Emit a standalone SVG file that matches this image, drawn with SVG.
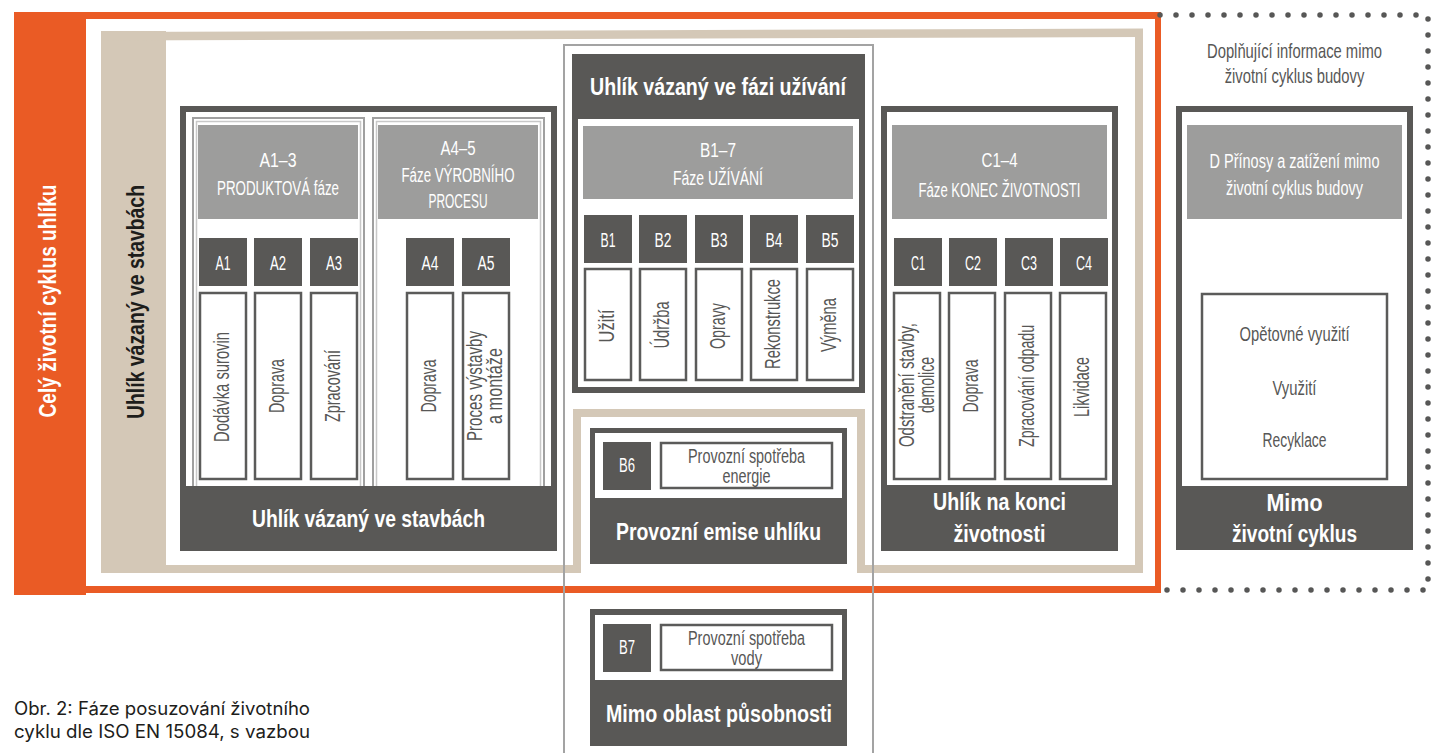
<svg xmlns="http://www.w3.org/2000/svg" width="1431" height="753" viewBox="0 0 1431 753">
<style>
text{font-family:"Liberation Sans",Arial,sans-serif}
.dk{fill:#595856}
.hd{fill:#9d9d9c}
.wh{fill:#fff}
.wb{fill:#fff;stroke:#5b5b5a;stroke-width:2.5}
.tan{fill:#d4c8b7}
.or{fill:#ea5b25}
.lw{fill:#fff;font-size:20px;text-anchor:middle}
.lb{fill:#fff;font-size:23px;font-weight:bold;text-anchor:middle}
.lg{fill:#575756;font-size:20px;text-anchor:middle}
.lv{fill:#575756;font-size:22px;text-anchor:middle}
.sq{fill:#fff;font-size:20px;text-anchor:middle}
.sf1{fill:none;stroke:#a0a0a0;stroke-width:2}
.sf2{fill:none;stroke:#c8c8c8;stroke-width:1.5}
</style>
<rect width="1431" height="753" fill="#fff"/>

<g id="orange-frame">
  <rect class="or" x="14" y="12" width="72" height="583"/>
  <rect class="or" x="14" y="12" width="1147" height="7"/>
  <rect class="or" x="1155" y="12" width="6" height="581"/>
  <rect class="or" x="14" y="586" width="1147" height="7"/>
  <text x="56" y="301" transform="rotate(-90 56 301)" fill="#fff" font-size="23" font-weight="bold" text-anchor="middle" textLength="233" lengthAdjust="spacingAndGlyphs">Celý životní cyklus uhlíku</text>
</g>

<g id="dotted-frame">
  <path d="M1160,15 H1428 V590 H1160" fill="none" stroke="#575756" stroke-width="5.5" stroke-linecap="round" stroke-dasharray="0 16"/>
  <text class="lg" transform="translate(1294.5 58) scale(0.74 1)" x="0" y="0" font-size="19">Doplňující informace mimo</text>
  <text class="lg" transform="translate(1294.5 83) scale(0.74 1)" x="0" y="0" font-size="19">životní cyklus budovy</text>
</g>

<g id="tan-frame">
  <rect class="tan" x="101" y="31" width="65" height="542"/>
  <polygon class="tan" points="101,32 1143,28.5 1143,37 101,40.5"/>
  <rect class="tan" x="1135" y="29" width="8" height="544"/>
  <rect class="tan" x="101" y="565" width="480" height="8"/>
  <rect class="tan" x="573" y="409" width="8" height="164"/>
  <rect class="tan" x="573" y="409" width="292" height="8"/>
  <rect class="tan" x="857" y="409" width="8" height="164"/>
  <rect class="tan" x="857" y="565" width="286" height="8"/>
  <text x="144" y="302" transform="rotate(-90 144 302)" fill="#1d1d1b" font-size="24" font-weight="bold" text-anchor="middle" textLength="234" lengthAdjust="spacingAndGlyphs">Uhlík vázaný ve stavbách</text>
</g>

<g id="grey-frame">
  <path d="M564,760 V45 H873 V760" fill="none" stroke="#a3a3a3" stroke-width="2"/>
</g>

<g id="box-A">
  <rect class="dk" x="180" y="106" width="377" height="445"/>
  <rect class="wh" x="186" y="112" width="365" height="374"/>
  <text class="lb" x="368.5" y="527" textLength="233" lengthAdjust="spacingAndGlyphs">Uhlík vázaný ve stavbách</text>
</g>

<g id="box-A1-3">
  <path class="sf1" d="M193,486 V118 H364 V486"/>
  <path class="sf2" d="M196.5,486 V121.5 H360.5 V486"/>
  <rect class="hd" x="198" y="125" width="160" height="94"/>
  <text class="lw" x="278" y="167" textLength="37" lengthAdjust="spacingAndGlyphs">A1–3</text>
  <text class="lw" x="278" y="195" textLength="122" lengthAdjust="spacingAndGlyphs">PRODUKTOVÁ fáze</text>
  <rect class="dk" x="199" y="238" width="48" height="48"/>
  <rect class="dk" x="254" y="238" width="48" height="48"/>
  <rect class="dk" x="310" y="238" width="48" height="48"/>
  <text class="sq" x="223" y="270" textLength="15" lengthAdjust="spacingAndGlyphs">A1</text>
  <text class="sq" x="278" y="270" textLength="16" lengthAdjust="spacingAndGlyphs">A2</text>
  <text class="sq" x="334" y="270" textLength="16" lengthAdjust="spacingAndGlyphs">A3</text>
  <rect class="wb" x="200" y="293" width="46" height="186"/>
  <rect class="wb" x="255" y="293" width="46" height="186"/>
  <rect class="wb" x="311" y="293" width="46" height="186"/>
  <text class="lv" x="229" y="387" transform="rotate(-90 229 387)" textLength="110" lengthAdjust="spacingAndGlyphs">Dodávka surovin</text>
  <text class="lv" x="284" y="386" transform="rotate(-90 284 386)" textLength="54" lengthAdjust="spacingAndGlyphs">Doprava</text>
  <text class="lv" x="340" y="386" transform="rotate(-90 340 386)" textLength="72" lengthAdjust="spacingAndGlyphs">Zpracování</text>
</g>

<g id="box-A4-5">
  <path class="sf1" d="M373,486 V118 H544 V486"/>
  <path class="sf2" d="M376.5,486 V121.5 H540.5 V486"/>
  <rect class="hd" x="378" y="125" width="160" height="94"/>
  <text class="lw" x="458" y="155" textLength="35" lengthAdjust="spacingAndGlyphs">A4–5</text>
  <text class="lw" x="458" y="182" textLength="113" lengthAdjust="spacingAndGlyphs">Fáze VÝROBNÍHO</text>
  <text class="lw" x="458" y="208" textLength="59" lengthAdjust="spacingAndGlyphs">PROCESU</text>
  <rect class="dk" x="406" y="238" width="48" height="48"/>
  <rect class="dk" x="462" y="238" width="48" height="48"/>
  <text class="sq" x="430" y="270" textLength="17" lengthAdjust="spacingAndGlyphs">A4</text>
  <text class="sq" x="486" y="270" textLength="17" lengthAdjust="spacingAndGlyphs">A5</text>
  <rect class="wb" x="407" y="293" width="46" height="186"/>
  <rect class="wb" x="463" y="293" width="46" height="186"/>
  <text class="lv" x="436" y="386" transform="rotate(-90 436 386)" textLength="53" lengthAdjust="spacingAndGlyphs">Doprava</text>
  <text class="lv" x="482" y="386" transform="rotate(-90 482 386)" textLength="110" lengthAdjust="spacingAndGlyphs">Proces výstavby</text>
  <text class="lv" x="502" y="386" transform="rotate(-90 502 386)" textLength="76" lengthAdjust="spacingAndGlyphs">a montáže</text>
</g>

<g id="box-B">
  <rect class="dk" x="572" y="54" width="293" height="339"/>
  <rect class="wh" x="578" y="119" width="281" height="268"/>
  <text class="lb" x="718" y="95" font-size="22" textLength="256" lengthAdjust="spacingAndGlyphs">Uhlík vázaný ve fázi užívání</text>
  <rect class="hd" x="583" y="126" width="270" height="73"/>
  <text class="lw" x="718" y="157" textLength="36" lengthAdjust="spacingAndGlyphs">B1–7</text>
  <text class="lw" x="718" y="185" textLength="90" lengthAdjust="spacingAndGlyphs">Fáze UŽÍVÁNÍ</text>
  <rect class="dk" x="584" y="215" width="48" height="48"/>
  <rect class="dk" x="639" y="215" width="48" height="48"/>
  <rect class="dk" x="695" y="215" width="48" height="48"/>
  <rect class="dk" x="750" y="215" width="48" height="48"/>
  <rect class="dk" x="806" y="215" width="48" height="48"/>
  <text class="sq" x="608" y="247" textLength="15" lengthAdjust="spacingAndGlyphs">B1</text>
  <text class="sq" x="663" y="247" textLength="17" lengthAdjust="spacingAndGlyphs">B2</text>
  <text class="sq" x="719" y="247" textLength="17" lengthAdjust="spacingAndGlyphs">B3</text>
  <text class="sq" x="774" y="247" textLength="17" lengthAdjust="spacingAndGlyphs">B4</text>
  <text class="sq" x="830" y="247" textLength="17" lengthAdjust="spacingAndGlyphs">B5</text>
  <rect class="wb" x="585" y="269" width="46" height="111"/>
  <rect class="wb" x="640" y="269" width="46" height="111"/>
  <rect class="wb" x="696" y="269" width="46" height="111"/>
  <rect class="wb" x="751" y="269" width="46" height="111"/>
  <rect class="wb" x="807" y="269" width="46" height="111"/>
  <text class="lv" x="614" y="326" transform="rotate(-90 614 326)" textLength="33" lengthAdjust="spacingAndGlyphs">Užití</text>
  <text class="lv" x="669" y="325" transform="rotate(-90 669 325)" textLength="47" lengthAdjust="spacingAndGlyphs">Údržba</text>
  <text class="lv" x="725" y="326" transform="rotate(-90 725 326)" textLength="46" lengthAdjust="spacingAndGlyphs">Opravy</text>
  <text class="lv" x="780" y="324" transform="rotate(-90 780 324)" textLength="90" lengthAdjust="spacingAndGlyphs">Rekonstrukce</text>
  <text class="lv" x="836" y="325" transform="rotate(-90 836 325)" textLength="54" lengthAdjust="spacingAndGlyphs">Výměna</text>
</g>

<g id="box-B6">
  <rect class="dk" x="590" y="428" width="257" height="136"/>
  <rect class="wh" x="595" y="433" width="247" height="65"/>
  <rect class="dk" x="603" y="442" width="48" height="48"/>
  <text class="sq" x="627" y="472" font-size="16" textLength="16" lengthAdjust="spacingAndGlyphs">B6</text>
  <rect class="wb" x="661" y="443" width="171" height="45"/>
  <text class="lg" x="746.5" y="463" font-size="19" textLength="117" lengthAdjust="spacingAndGlyphs">Provozní spotřeba</text>
  <text class="lg" x="746.5" y="483" font-size="19" textLength="48" lengthAdjust="spacingAndGlyphs">energie</text>
  <text class="lb" x="718.5" y="540" font-size="22" textLength="205" lengthAdjust="spacingAndGlyphs">Provozní emise uhlíku</text>
</g>

<g id="box-B7">
  <rect class="dk" x="590" y="609" width="257" height="137"/>
  <rect class="wh" x="595" y="615" width="247" height="65"/>
  <rect class="dk" x="603" y="624" width="48" height="48"/>
  <text class="sq" x="627" y="654" font-size="16" textLength="16" lengthAdjust="spacingAndGlyphs">B7</text>
  <rect class="wb" x="661" y="625" width="171" height="45"/>
  <text class="lg" x="746.5" y="645" font-size="19" textLength="117" lengthAdjust="spacingAndGlyphs">Provozní spotřeba</text>
  <text class="lg" x="746.5" y="665" font-size="19" textLength="31" lengthAdjust="spacingAndGlyphs">vody</text>
  <text class="lb" x="719" y="722" font-size="22" textLength="226" lengthAdjust="spacingAndGlyphs">Mimo oblast působnosti</text>
</g>

<g id="box-C">
  <rect class="dk" x="881" y="106" width="237" height="445"/>
  <rect class="wh" x="887" y="112" width="225" height="373"/>
  <rect class="hd" x="892" y="125" width="215" height="94"/>
  <text class="lw" x="999.5" y="167" textLength="36" lengthAdjust="spacingAndGlyphs">C1–4</text>
  <text class="lw" x="999.5" y="197" textLength="162" lengthAdjust="spacingAndGlyphs">Fáze KONEC ŽIVOTNOSTI</text>
  <rect class="dk" x="894" y="238" width="48" height="48"/>
  <rect class="dk" x="949" y="238" width="48" height="48"/>
  <rect class="dk" x="1005" y="238" width="48" height="48"/>
  <rect class="dk" x="1060" y="238" width="48" height="48"/>
  <text class="sq" x="918" y="270" textLength="14" lengthAdjust="spacingAndGlyphs">C1</text>
  <text class="sq" x="973" y="270" textLength="16" lengthAdjust="spacingAndGlyphs">C2</text>
  <text class="sq" x="1029" y="270" textLength="16" lengthAdjust="spacingAndGlyphs">C3</text>
  <text class="sq" x="1084" y="270" textLength="16" lengthAdjust="spacingAndGlyphs">C4</text>
  <rect class="wb" x="894" y="293" width="46" height="186"/>
  <rect class="wb" x="949" y="293" width="46" height="186"/>
  <rect class="wb" x="1005" y="293" width="46" height="186"/>
  <rect class="wb" x="1060" y="293" width="46" height="186"/>
  <text class="lv" x="914" y="385" transform="rotate(-90 914 385)" textLength="124" lengthAdjust="spacingAndGlyphs">Odstranění stavby,</text>
  <text class="lv" x="934" y="385" transform="rotate(-90 934 385)" textLength="56" lengthAdjust="spacingAndGlyphs">demolice</text>
  <text class="lv" x="978" y="386" transform="rotate(-90 978 386)" textLength="53" lengthAdjust="spacingAndGlyphs">Doprava</text>
  <text class="lv" x="1034" y="386" transform="rotate(-90 1034 386)" textLength="122" lengthAdjust="spacingAndGlyphs">Zpracování odpadu</text>
  <text class="lv" x="1089" y="387" transform="rotate(-90 1089 387)" textLength="60" lengthAdjust="spacingAndGlyphs">Likvidace</text>
  <text class="lb" x="999.5" y="510" textLength="133" lengthAdjust="spacingAndGlyphs">Uhlík na konci</text>
  <text class="lb" x="999.5" y="542" textLength="92" lengthAdjust="spacingAndGlyphs">životnosti</text>
</g>

<g id="box-D">
  <rect class="dk" x="1176" y="106" width="237" height="444"/>
  <rect class="wh" x="1182" y="112" width="225" height="374"/>
  <rect class="hd" x="1187" y="125" width="215" height="94"/>
  <text class="lw" transform="translate(1294.5 168) scale(0.725 1)" x="0" y="0" font-size="19">D Přínosy a zatížení mimo</text>
  <text class="lw" transform="translate(1294.5 195) scale(0.725 1)" x="0" y="0" font-size="19">životní cyklus budovy</text>
  <rect class="wb" x="1202" y="294" width="185" height="185"/>
  <text class="lg" x="1294.5" y="341" textLength="110" lengthAdjust="spacingAndGlyphs">Opětovné využití</text>
  <text class="lg" x="1294.5" y="395" textLength="44" lengthAdjust="spacingAndGlyphs">Využití</text>
  <text class="lg" x="1294.5" y="447" textLength="64" lengthAdjust="spacingAndGlyphs">Recyklace</text>
  <text class="lb" x="1294.5" y="511" textLength="56" lengthAdjust="spacingAndGlyphs">Mimo</text>
  <text class="lb" x="1294.5" y="542" textLength="125" lengthAdjust="spacingAndGlyphs">životní cyklus</text>
</g>

<g id="connectors"></g>

<g id="caption">
  <text x="14" y="715" fill="#1d1d1b" font-size="18" textLength="296" lengthAdjust="spacingAndGlyphs" style="font-family:Inter,'Liberation Sans',sans-serif">Obr. 2: Fáze posuzování životního</text>
  <text x="14" y="738" fill="#1d1d1b" font-size="18" textLength="296" lengthAdjust="spacingAndGlyphs" style="font-family:Inter,'Liberation Sans',sans-serif">cyklu dle ISO EN 15084, s vazbou</text>
</g>
</svg>
